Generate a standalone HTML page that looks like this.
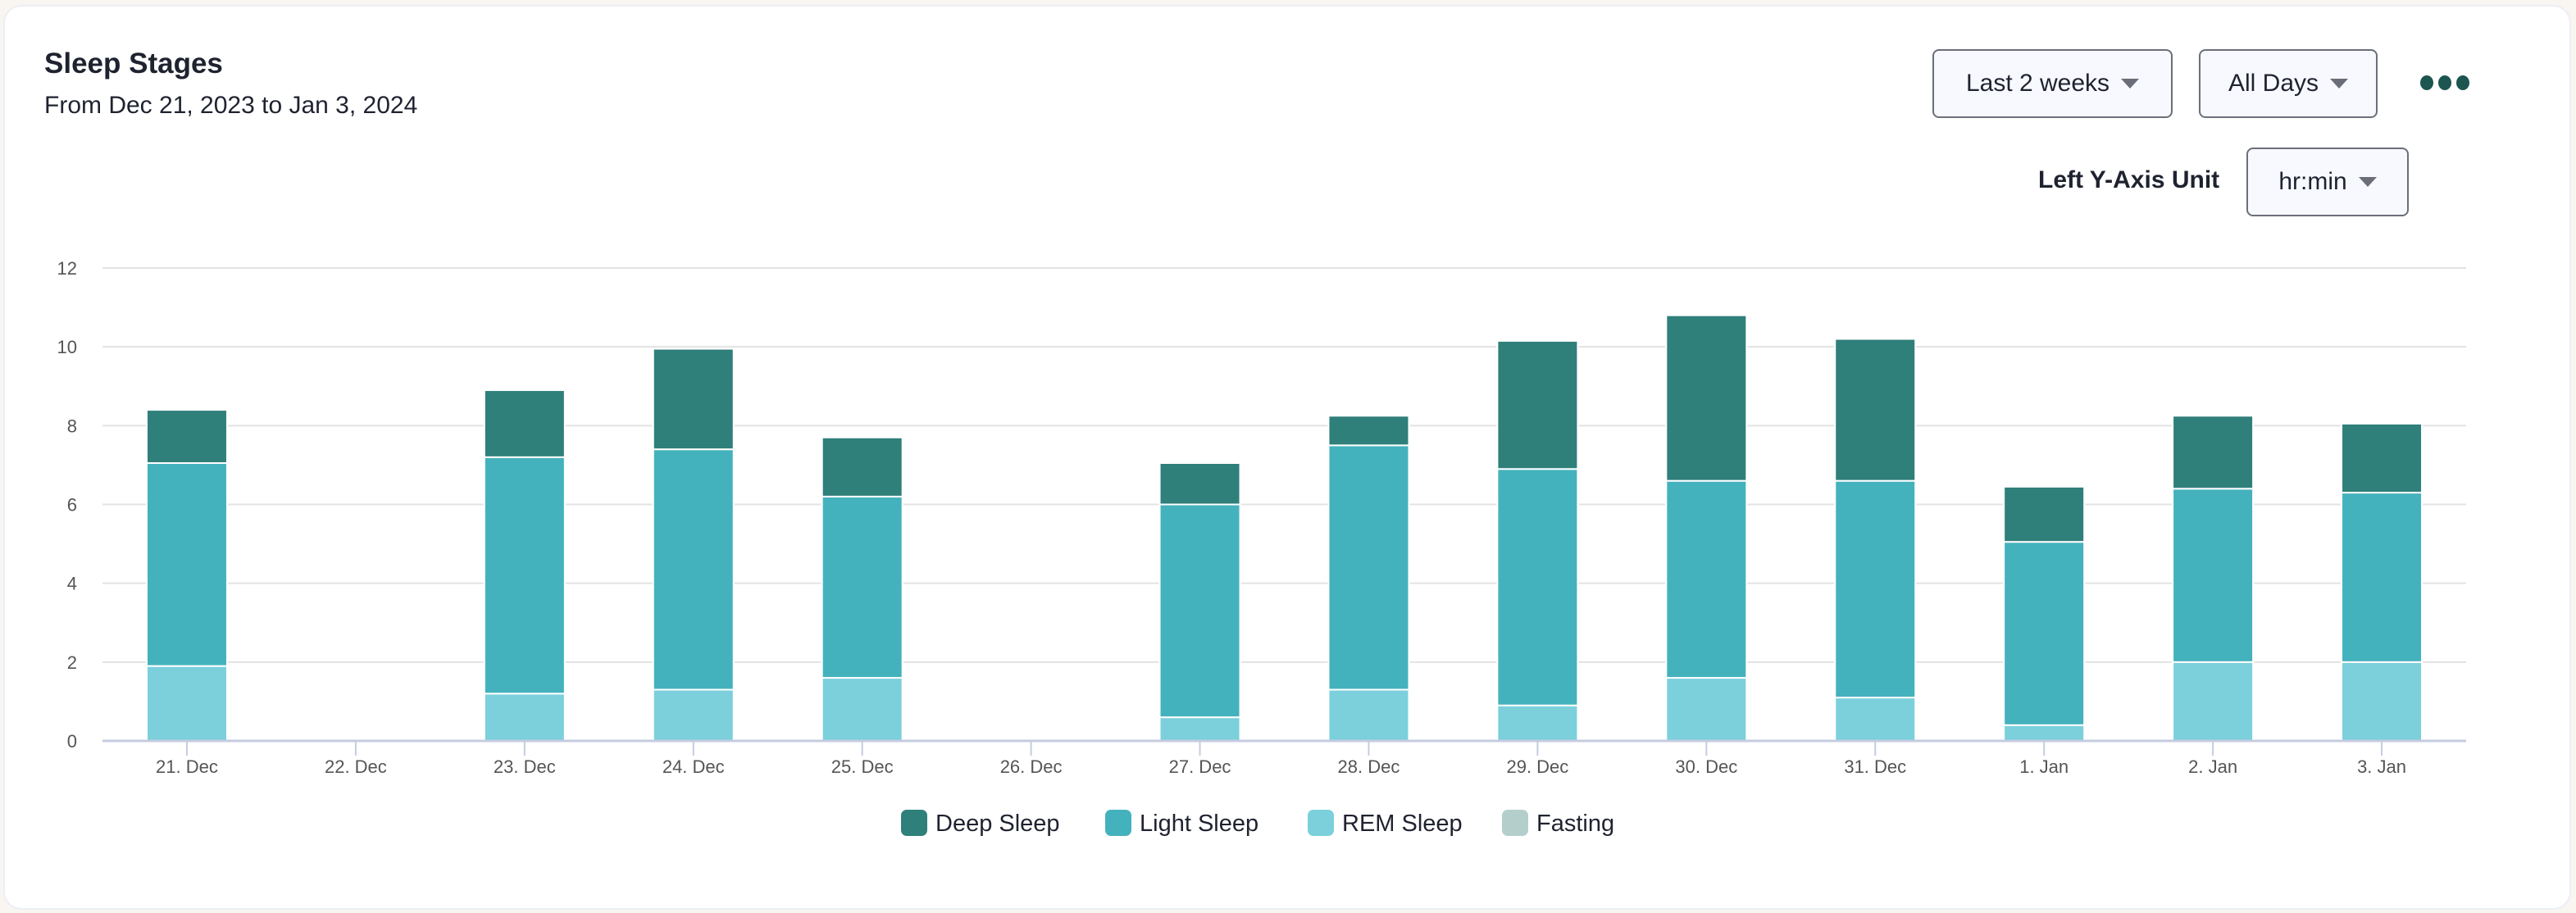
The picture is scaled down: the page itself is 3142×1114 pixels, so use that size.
<!DOCTYPE html>
<html><head><meta charset="utf-8"><style>
html,body{margin:0;padding:0;width:3142px;height:1114px;background:#f9f6f1;overflow:hidden;font-family:"Liberation Sans",sans-serif;}
.card{position:absolute;left:4px;top:6px;width:3128px;height:1100px;background:#fff;border:2px solid #eceef5;border-radius:22px;}
.title{position:absolute;left:54px;top:58px;font-size:35px;font-weight:bold;color:#1f2330;}
.sub{position:absolute;left:54px;top:112px;font-size:30px;color:#1f2330;}
.btn{position:absolute;background:#f8f9fe;border:2px solid #6b6f7a;border-radius:8px;box-sizing:border-box;font-size:30px;color:#1f2330;display:flex;align-items:center;justify-content:center;gap:14px;}
.tri{width:0;height:0;border-left:11px solid transparent;border-right:11px solid transparent;border-top:12px solid #6b6e78;}
.dots{position:absolute;left:2952px;top:92px;display:flex;gap:6px;}
.dots span{width:16px;height:18px;border-radius:50%;background:#1d5550;display:block;}
.lbl{position:absolute;left:2486px;top:203px;font-size:30px;font-weight:bold;color:#1f2330;}
svg{position:absolute;left:0;top:0;}
</style></head><body>
<div class="card"></div>
<div class="title">Sleep Stages</div>
<div class="sub">From Dec 21, 2023 to Jan 3, 2024</div>
<div class="btn" style="left:2357px;top:60px;width:293px;height:84px">Last 2 weeks <span class="tri"></span></div>
<div class="btn" style="left:2682px;top:60px;width:218px;height:84px">All Days <span class="tri"></span></div>
<div class="dots"><span></span><span></span><span></span></div>
<div class="lbl">Left Y-Axis Unit</div>
<div class="btn" style="left:2740px;top:180px;width:198px;height:84px">hr:min <span class="tri"></span></div>
<svg id="chart" width="3142" height="1114"></svg>
<script>
const categories=["21. Dec","22. Dec","23. Dec","24. Dec","25. Dec","26. Dec","27. Dec","28. Dec","29. Dec","30. Dec","31. Dec","1. Jan","2. Jan","3. Jan"];
const remSleep=[1.9,0,1.2,1.3,1.6,0,0.6,1.3,0.9,1.6,1.1,0.4,2.0,2.0];
const lightSleep=[5.15,0,6.0,6.1,4.6,0,5.4,6.2,6.0,5.0,5.5,4.65,4.4,4.3];
const deepSleep=[1.35,0,1.7,2.55,1.5,0,1.05,0.75,3.25,4.2,3.6,1.4,1.85,1.75];
const yTicks=[0,2,4,6,8,10,12];
const legendItems=["Deep Sleep","Light Sleep","REM Sleep","Fasting"];
const NS="http://www.w3.org/2000/svg";
const svg=document.getElementById('chart');
const L=125,R=3008,Y0=904,Y12=327,yMax=12;
const step=(R-L)/categories.length, bw=98;
function x(i){return L+step*(i+0.5);}
function y(v){return Y0-(Y0-Y12)*v/yMax;}
function mk(t,a,txt){const e=document.createElementNS(NS,t);for(const k in a)e.setAttribute(k,a[k]);if(txt!=null)e.textContent=txt;svg.appendChild(e);return e;}
yTicks.forEach(v=>{
  if(v>0){const g=mk('line',{x1:L,x2:R,y1:y(v),y2:y(v),stroke:'#e3e3e3','stroke-width':2});
  
  }
  const t=mk('text',{x:94,y:y(v)+8,'text-anchor':'end','font-size':22,fill:'#555','font-family':'Liberation Sans, sans-serif'},v);
  
  
});
const series=[[remSleep,'#7bd0dc','rem'],[lightSleep,'#44b2bd','light'],[deepSleep,'#2f7f7a','deep']];
categories.forEach((c,i)=>{
  let base=0;
  series.forEach(([arr,col,nm])=>{
    const v=arr[i];
    if(v>0){
      const r=mk('rect',{x:x(i)-bw/2,y:y(base+v),width:bw,height:y(base)-y(base+v),fill:col,stroke:'#fff','stroke-width':2});
      
      
    }
    base+=v;
  });
  const tk=mk('line',{x1:x(i),x2:x(i),y1:Y0,y2:Y0+18,stroke:'#c5cce0','stroke-width':2});
  
  
  const t=mk('text',{x:x(i),y:943,'text-anchor':'middle','font-size':22,fill:'#555','font-family':'Liberation Sans, sans-serif'},c);
  
  
});
const ax=mk('line',{x1:L,x2:R,y1:Y0,y2:Y0,stroke:'#c5cce0','stroke-width':3});


const legendColors=['#2f7f7a','#44b2bd','#7bd0dc','#b4cfcb'];
const legendX=[1099,1348,1595,1832];
legendItems.forEach((n,i)=>{
  const s=mk('rect',{x:legendX[i],y:988,width:32,height:32,rx:7,fill:legendColors[i]});
  
  
  const t=mk('text',{x:legendX[i]+42,y:1014,'font-size':29,fill:'#1f2330','font-family':'Liberation Sans, sans-serif'},n);
  
  
});
</script>
</body></html>
